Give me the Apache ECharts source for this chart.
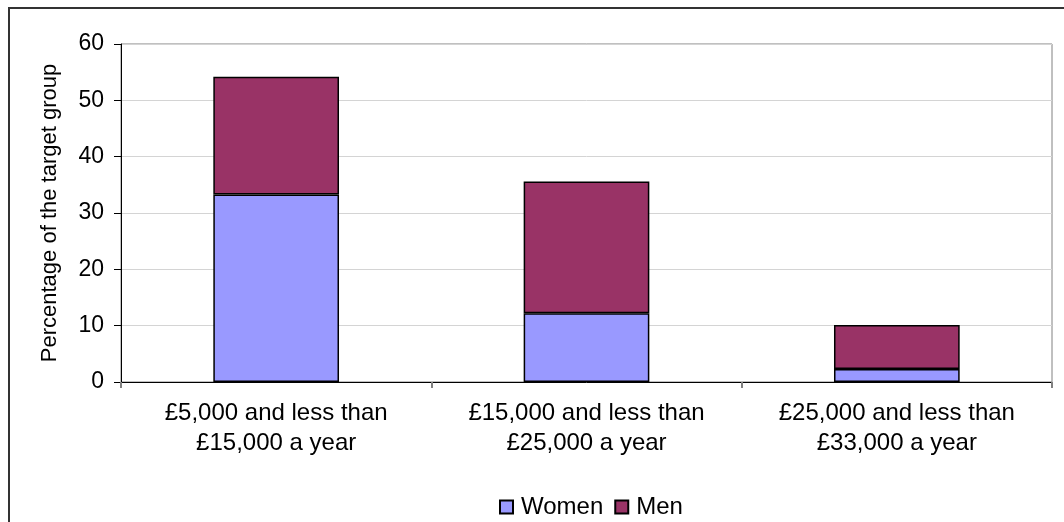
<!DOCTYPE HTML>
<html>
	<head>
		<meta http-equiv="Content-type" content="text/html; charset=UTF-8" />
		<script type="text/javascript" src="https://cdn.jsdelivr.net/npm/echarts@6/dist/echarts.min.js"></script>
		<style>
			html, body { margin: 0; padding: 0; background: #fff; }
		</style>
	</head>
	<body>
	 	<div id="div_1" style="width: 1064px;height:522px;"></div>
	</body>
</html>

<script>
	// 数据
	var categories = ['£5,000 and less than\n£15,000 a year', '£15,000 and less than\n£25,000 a year', '£25,000 and less than\n£33,000 a year']
	var women = [33.3, 12.2, 2.3]
	var men = [20.9, 23.4, 7.8]
	var yTicks = [0, 10, 20, 30, 40, 50, 60]

	var font = 'Liberation Sans, Arial, sans-serif'
	var myChart = echarts.init(document.getElementById("div_1"))
	var option = {
		backgroundColor: '#fff',
		animation: false,
		textStyle: {
			fontFamily: font
		},
		graphic: [{
			type: 'rect',
			shape: { x: 9, y: 8, width: 1200, height: 700 },
			style: { fill: 'none', stroke: '#333', lineWidth: 2 },
			silent: true
		}],
		grid: {
			left: 121,
			right: 12,
			top: 44,
			bottom: 140,
			show: true,
			borderColor: '#808080',
			borderWidth: 1
		},
		legend: {
			data: ['Women', 'Men'],
			left: 494,
			top: 490,
			itemWidth: 13,
			itemHeight: 13,
			itemGap: 11,
			icon: 'rect',
			textStyle: {
				fontFamily: font,
				fontSize: 24,
				lineHeight: 24,
				color: '#000',
				padding: [0, 0, 0, 3]
			}
		},
		xAxis: {
			type: 'category',
			data: categories,
			boundaryGap: true,
			axisLine: { lineStyle: { color: '#000', width: 1 } },
			axisTick: { show: true, length: 6, lineStyle: { color: '#808080', width: 2 } },
			axisLabel: {
				margin: 16,
				fontFamily: font,
				fontSize: 24,
				lineHeight: 30,
				color: '#000',
				interval: 0
			},
			splitLine: { show: false }
		},
		yAxis: {
			type: 'value',
			min: yTicks[0],
			max: yTicks[yTicks.length - 1],
			interval: 10,
			name: 'Percentage of the target group',
			nameLocation: 'middle',
			nameGap: 60,
			nameTextStyle: {
				fontFamily: font,
				fontSize: 22,
				color: '#000'
			},
			axisLine: { show: true, lineStyle: { color: '#000', width: 1 } },
			axisTick: { show: true, length: 7, lineStyle: { color: '#000' } },
			axisLabel: {
				margin: 17,
				fontFamily: font,
				fontSize: 23,
				color: '#000'
			},
			splitLine: { show: true, lineStyle: { color: '#d4d4d4', width: 1 } }
		},
		series: [{
				name: 'Women',
				type: 'bar',
				stack: 'total',
				data: women,
				barCategoryGap: '59.5%',
				itemStyle: {
					color: '#9999FF',
					borderColor: '#000',
					borderWidth: 1.5
				}
			},
			{
				name: 'Men',
				type: 'bar',
				stack: 'total',
				data: men,
				itemStyle: {
					color: '#993366',
					borderColor: '#000',
					borderWidth: 1.5
				}
			}
		]
	};
	myChart.setOption(option)
</script>
